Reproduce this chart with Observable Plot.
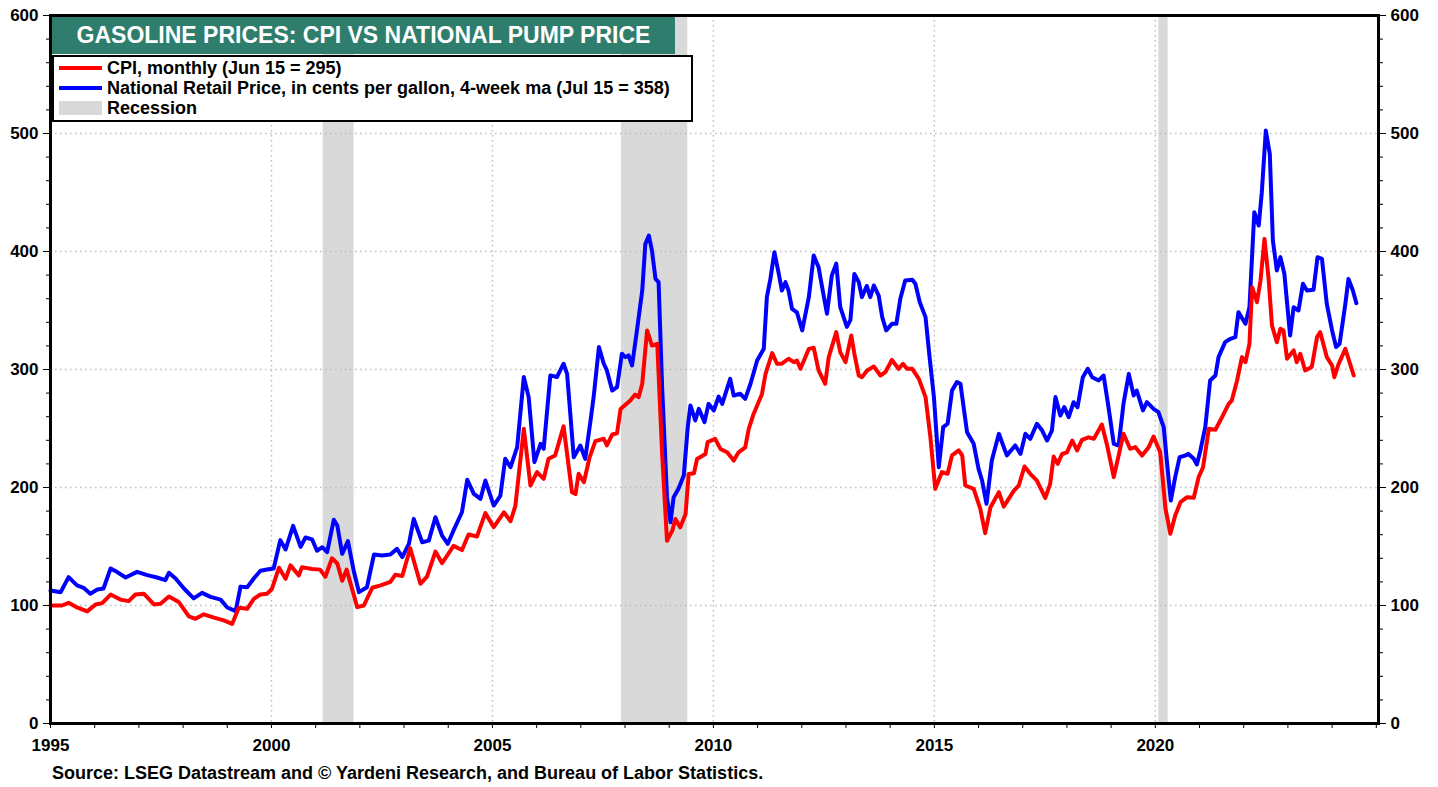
<!DOCTYPE html>
<html>
<head>
<meta charset="utf-8">
<script src="https://cdn.jsdelivr.net/npm/d3@7"></script>
<script src="https://cdn.jsdelivr.net/npm/@observablehq/plot@0.6"></script>
<style>
  html, body { margin: 0; padding: 0; background: #fff; }
  #wrap { position: relative; width: 1438px; height: 787px; font-family: "Liberation Sans", Arial, sans-serif; font-weight: bold; color: #000; }
  #chart { position: absolute; left: 0; top: 0; }
  #title { position: absolute; left: 52px; top: 17px; width: 623px; height: 37px; background: #2f7d6d; color: #fff;
           font-size: 23px; line-height: 37px; text-align: center; letter-spacing: 0px; }
  #legend { position: absolute; left: 52px; top: 55px; width: 637px; height: 63px; background: #fff; border: 2px solid #000; }
  .row { position: absolute; left: 3px; height: 20px; font-size: 18px; line-height: 20px; white-space: nowrap; }
  .sw { position: absolute; left: 2px; width: 43px; }
  .lab { position: absolute; left: 50px; top: 0; }
  #caption { position: absolute; left: 52px; top: 763px; font-size: 18px; line-height: 20px; white-space: nowrap; }
</style>
</head>
<body>
<div id="wrap">
  <div id="chart"></div>
  <div id="title"></div>
  <div id="legend"></div>
  <div id="caption"></div>
</div>
<script>
// ---------- data ----------
const titleText = "GASOLINE PRICES: CPI VS NATIONAL PUMP PRICE";
const seriesNames = ["CPI, monthly (Jun 15 = 295)", "National Retail Price, in cents per gallon, 4-week ma (Jul 15 = 358)", "Recession"];
const seriesColors = ["#ff0000", "#0000ff", "#d9d9d9"];
const captionText = "Source: LSEG Datastream and \u00A9 Yardeni Research, and Bureau of Labor Statistics.";

const xTickYears = [1995, 2000, 2005, 2010, 2015, 2020];
const yTicks = [0, 100, 200, 300, 400, 500, 600];

const recessionStart = [2001.17, 2007.92, 2020.08];
const recessionEnd   = [2001.87, 2009.42, 2020.29];

const cpiYears = [1995.0,1995.26,1995.41,1995.6,1995.83,1996.02,1996.17,1996.36,1996.58,1996.77,1996.92,1997.11,1997.34,1997.49,1997.68,1997.9,1998.13,1998.28,1998.47,1998.7,1998.92,1999.11,1999.26,1999.45,1999.6,1999.75,1999.9,2000.01,2000.17,2000.32,2000.43,2000.62,2000.69,2000.92,2001.1,2001.22,2001.37,2001.49,2001.6,2001.7,2001.83,2001.94,2002.09,2002.28,2002.47,2002.69,2002.8,2002.96,2003.14,2003.37,2003.52,2003.71,2003.86,2004.12,2004.31,2004.46,2004.65,2004.84,2005.03,2005.26,2005.41,2005.52,2005.71,2005.86,2006.01,2006.16,2006.27,2006.42,2006.61,2006.8,2006.88,2006.95,2007.07,2007.2,2007.33,2007.52,2007.59,2007.71,2007.82,2007.9,2008.12,2008.23,2008.31,2008.39,2008.5,2008.61,2008.73,2008.84,2008.95,2009.07,2009.14,2009.25,2009.37,2009.44,2009.56,2009.63,2009.82,2009.87,2010.04,2010.16,2010.31,2010.46,2010.57,2010.72,2010.8,2010.91,2011.1,2011.18,2011.33,2011.44,2011.55,2011.7,2011.82,2011.89,2011.97,2012.16,2012.27,2012.38,2012.53,2012.61,2012.78,2012.87,2012.99,2013.12,2013.19,2013.29,2013.36,2013.48,2013.63,2013.78,2013.89,2014.04,2014.19,2014.29,2014.38,2014.5,2014.65,2014.8,2014.91,2015.02,2015.17,2015.3,2015.4,2015.55,2015.63,2015.7,2015.89,2016.04,2016.15,2016.27,2016.46,2016.57,2016.8,2016.91,2017.04,2017.17,2017.32,2017.51,2017.62,2017.7,2017.79,2017.89,2018.0,2018.12,2018.23,2018.34,2018.49,2018.61,2018.79,2018.91,2019.06,2019.28,2019.43,2019.55,2019.7,2019.85,2019.96,2020.11,2020.23,2020.34,2020.45,2020.57,2020.72,2020.87,2020.98,2021.08,2021.21,2021.36,2021.51,2021.66,2021.73,2021.85,2021.96,2022.04,2022.13,2022.19,2022.3,2022.38,2022.47,2022.56,2022.64,2022.75,2022.83,2022.9,2022.98,2023.13,2023.2,2023.28,2023.39,2023.54,2023.66,2023.73,2023.88,2024.0,2024.05,2024.15,2024.3,2024.49];
const cpiValues = [100,100,102.3,98.4,95,100.9,102,109.3,105,103.7,109.3,110,100.9,101.5,107.6,103,90.7,88.7,92.5,89.7,87.4,84.4,98,97.2,105.6,109.3,110,114,132,122.6,134,125.5,132.5,131,130.4,124.4,140,135.6,121,130.4,113.3,98.6,100,115,117,120,126,125,148.5,118.4,124.4,145.7,135.8,150.5,147,160.2,158.5,178.3,166.4,179,171.4,184.7,249.7,201.7,213,207.3,224.3,227.2,251.8,196,194.5,211.6,204.5,225.8,239.3,241.3,235.6,244.9,246,266.6,273.7,278.8,276.6,287.9,333.1,320.3,321.8,228.5,154.9,163.4,173.3,166.2,177.5,211.4,212,224.2,228.4,238.4,241.2,232.7,229.8,222.8,229.8,234,249.6,262.3,279.3,296.3,313.9,304.9,304.9,309.1,306.2,307.6,300.6,317.5,318.4,299.2,287.9,310.5,331.7,314.7,306.2,328.8,313.3,294.9,293.5,299.2,302.5,294.9,297.7,308.1,300.6,304.8,300.6,300.6,292.1,276.6,242.7,198.9,213,211.6,227.2,231.4,227.2,201.7,198.9,181.9,161.3,183.3,196,183.8,197.4,201.7,217.8,211.6,205.9,191.2,203,226.2,220,228.4,229.8,239.8,231.4,240.3,242.5,241.3,253.4,235.6,208.8,245.5,232.8,234.2,227.1,234.2,243.2,229.9,182,160.8,176.3,187.6,191.8,191.3,208.8,217.2,249.7,248.9,259.6,270.9,273.7,290.7,310.5,306.2,321.8,369.8,357,375.4,410.7,378.2,337.2,323.1,334.5,333.1,309.1,316.2,306.2,313.3,299.2,302.1,327.5,331.7,310.5,303.4,293.5,304.9,317.5,294.9];

const pumpYears = [1995.0,1995.23,1995.41,1995.6,1995.75,1995.9,1996.06,1996.2,1996.36,1996.5,1996.7,1996.96,1997.19,1997.41,1997.6,1997.68,1997.83,1998.02,1998.24,1998.43,1998.62,1998.85,1999.0,1999.19,1999.3,1999.45,1999.6,1999.75,1999.9,2000.05,2000.2,2000.32,2000.49,2000.66,2000.77,2000.92,2001.03,2001.15,2001.26,2001.41,2001.49,2001.6,2001.73,2001.86,2001.98,2002.16,2002.32,2002.5,2002.69,2002.84,2002.96,2003.11,2003.22,2003.41,2003.56,2003.71,2003.86,2003.99,2004.12,2004.31,2004.43,2004.58,2004.73,2004.84,2005.03,2005.18,2005.29,2005.41,2005.56,2005.71,2005.82,2005.95,2006.09,2006.16,2006.31,2006.46,2006.61,2006.69,2006.84,2006.99,2007.1,2007.22,2007.29,2007.41,2007.52,2007.59,2007.71,2007.82,2007.93,2008.01,2008.08,2008.16,2008.27,2008.39,2008.46,2008.54,2008.61,2008.69,2008.76,2008.84,2008.95,2009.03,2009.1,2009.21,2009.33,2009.42,2009.48,2009.59,2009.67,2009.8,2009.89,2010.01,2010.12,2010.2,2010.38,2010.46,2010.61,2010.72,2010.84,2010.99,2011.14,2011.21,2011.29,2011.38,2011.48,2011.55,2011.63,2011.7,2011.78,2011.89,2012.01,2012.16,2012.27,2012.38,2012.46,2012.57,2012.68,2012.78,2012.87,2013.02,2013.1,2013.19,2013.29,2013.36,2013.47,2013.55,2013.63,2013.74,2013.82,2013.91,2014.04,2014.14,2014.23,2014.34,2014.5,2014.57,2014.67,2014.8,2014.9,2014.99,2015.1,2015.2,2015.3,2015.4,2015.51,2015.59,2015.74,2015.89,2016.0,2016.08,2016.18,2016.3,2016.46,2016.53,2016.64,2016.83,2016.95,2017.06,2017.17,2017.32,2017.44,2017.55,2017.66,2017.74,2017.85,2017.94,2018.04,2018.15,2018.24,2018.36,2018.47,2018.57,2018.72,2018.83,2018.94,2019.06,2019.17,2019.28,2019.4,2019.51,2019.58,2019.72,2019.81,2019.96,2020.07,2020.19,2020.26,2020.35,2020.45,2020.55,2020.68,2020.75,2020.87,2020.94,2021.02,2021.13,2021.24,2021.36,2021.43,2021.58,2021.7,2021.81,2021.88,2022.04,2022.13,2022.24,2022.34,2022.41,2022.5,2022.59,2022.66,2022.75,2022.83,2022.92,2023.05,2023.13,2023.24,2023.34,2023.43,2023.58,2023.67,2023.77,2023.88,2024.0,2024.09,2024.17,2024.3,2024.37,2024.47,2024.55];
const pumpValues = [112.7,111.3,124,117,115,110,113.6,114.4,131.4,128.5,123.7,128.5,125.7,123.7,121.5,127.7,122.9,114.4,106,110.7,107.3,105,98.3,95.2,116,115.4,122.9,129.4,130.5,131.4,155.4,147.5,167.5,149.7,157.6,156,146.4,149.4,145.2,172.6,167.8,143.8,154.5,129.7,111.3,115.5,143.2,142.4,143.2,148,141,152.3,173.4,153.6,155,174.8,159.3,152.3,163.6,179,206.5,194.6,190.4,205.9,184.7,193.2,224.3,217.2,234.2,293.6,276.6,221.5,237,232.8,295,293.6,304.9,296.3,225.7,235.6,224.3,256.8,276.6,319,304.9,299.2,282.2,285,313.3,310.5,311.9,303.4,333.1,366.9,406.4,413.5,400.8,376.8,374,285,191.8,170.6,191.8,198.9,210.2,251.2,269.5,256.8,266.7,255.4,270.9,265.3,277.1,270.9,292.1,278,279.4,275.1,287.9,307.6,317.5,361.3,376.8,399.4,381,366.9,374,366.9,351.3,348.4,333.1,361.3,396.6,386.7,369.8,347.3,379.8,389.7,353,336.1,341.8,381,374,361.3,370.8,361.3,371.2,362.7,344.4,333.1,338.7,338.7,360,375.4,376,372.6,357,344.4,307.6,276.6,217.2,251.1,254,282.2,289.3,287.9,246.9,237,215.8,205.9,186.2,222.8,245.5,238.4,227.2,235.6,228.5,245.5,241.2,254,248.3,239.8,248.3,276.6,261,268.1,259.6,272.3,268.1,293.5,300.6,293.5,290.7,294.9,268.1,237,235.6,271,296.3,278,282.2,265.3,272.3,266.7,263.8,251.1,222.8,188.9,208.8,225.7,227.1,228.5,224.3,219.5,231.4,251.1,290.7,294.9,310.5,323.2,326,327.4,348.6,338.7,352.8,433.3,422,450.3,502.5,482.8,409.3,383.9,395.2,381.1,328.8,352.8,350,372.6,366.9,367.5,395.2,393.8,355.6,333.1,319,321.8,355.6,376.8,366.9,356.2];

// ---------- tables built from the arrays ----------
const cpi = cpiYears.map((t, i) => ({t, v: cpiValues[i]}));
const pump = pumpYears.map((t, i) => ({t, v: pumpValues[i]}));
const recessions = recessionStart.map((s, i) => ({s, e: recessionEnd[i]}));
const yearTicks = d3.range(1995, 2026, 1);
const minorY = d3.range(0, 601, 20);
const gridYears = xTickYears.filter(y => y > 1995);
const gridVals = yTicks.filter(v => v > 0 && v < 600);

const gridStyle = {stroke: "#bdbdbd", strokeOpacity: 1, strokeWidth: 1.5, strokeDasharray: "1.5,3.5"};
const font = {fontSize: 17, fontWeight: "bold", fill: "#000"};

const chart = Plot.plot({
  width: 1438,
  height: 762,
  marginLeft: 50,
  marginRight: 60,
  marginTop: 15,
  marginBottom: 39,
  style: {fontFamily: "'Liberation Sans', Arial, sans-serif", color: "#000", background: "transparent"},
  x: {domain: [1995, 2025.05], label: null},
  y: {domain: [0, 600], label: null},
  marks: [
    Plot.rect(recessions, {x1: "s", x2: "e", y1: 0, y2: 600, fill: seriesColors[2]}),
    Plot.gridY(gridVals, gridStyle),
    Plot.gridX(gridYears, gridStyle),
    Plot.line(pump, {x: "t", y: "v", stroke: seriesColors[1], strokeWidth: 4, strokeLinejoin: "round"}),
    Plot.line(cpi, {x: "t", y: "v", stroke: seriesColors[0], strokeWidth: 4, strokeLinejoin: "round"}),
    // left axis
    Plot.axisY({anchor: "left", ticks: minorY, tickSize: 4, tickFormat: () => "", label: null, strokeWidth: 1}),
    Plot.axisY({anchor: "left", ticks: yTicks, tickSize: 7, tickPadding: 5, label: null, ...font}),
    // right axis
    Plot.axisY({anchor: "right", ticks: minorY, tickSize: 4, tickFormat: () => "", label: null, strokeWidth: 1}),
    Plot.axisY({anchor: "right", ticks: yTicks, tickSize: 7, tickPadding: 5, label: null, ...font}),
    // bottom axis
    Plot.axisX({anchor: "bottom", ticks: yearTicks, tickSize: 5, tickFormat: () => "", label: null, strokeWidth: 1}),
    Plot.axisX({anchor: "bottom", ticks: xTickYears, tickSize: 0, tickPadding: 15, tickFormat: d => String(d), label: null, ...font}),
    Plot.frame({stroke: "#000", strokeWidth: 3})
  ]
});
document.getElementById("chart").appendChild(chart);

// ---------- title, legend, caption ----------
document.getElementById("title").textContent = titleText;
document.getElementById("caption").textContent = captionText;
const legend = document.getElementById("legend");
seriesNames.forEach((name, i) => {
  const row = document.createElement("div");
  row.className = "row";
  row.style.top = (i * 20 + 1) + "px";
  const sw = document.createElement("div");
  sw.className = "sw";
  if (i < 2) { sw.style.top = "8px"; sw.style.height = "4px"; }
  else { sw.style.top = "3px"; sw.style.height = "14px"; }
  sw.style.background = seriesColors[i];
  const lab = document.createElement("span");
  lab.className = "lab";
  lab.textContent = name;
  row.appendChild(sw);
  row.appendChild(lab);
  legend.appendChild(row);
});
</script>
</body>
</html>
